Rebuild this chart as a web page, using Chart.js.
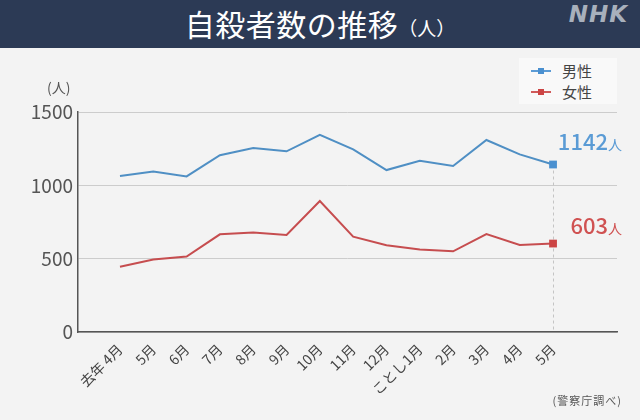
<!DOCTYPE html>
<html><head><meta charset="utf-8">
<script src="https://cdn.jsdelivr.net/npm/chart.js@4"></script>
<style>
html,body{margin:0;padding:0;width:640px;height:420px;background:#f3f3f3;overflow:hidden;font-family:"Noto Sans CJK JP",sans-serif;}
#wrap{position:relative;width:640px;height:420px;}
#c{position:absolute;left:0;top:0;}
#bar{position:absolute;left:0;top:0;width:640px;height:48px;background:#2c3a55;z-index:2;}
#title{position:absolute;left:0;width:640px;top:3px;text-align:center;color:#fff;font-size:30px;font-weight:400;line-height:40px;letter-spacing:0.5px;}
#title span{font-size:19px;letter-spacing:0;}
#nhk{position:absolute;right:12px;top:1px;color:#a8b0bc;font-family:"DejaVu Sans",sans-serif;font-weight:bold;font-style:italic;font-size:23px;letter-spacing:1px;}
#unit{position:absolute;left:47px;top:77px;font-size:14px;color:#555;}
#legend{position:absolute;left:519px;top:58px;width:98px;height:46px;background:#f9f9f9;z-index:2;}
.li{position:absolute;left:12px;height:20px;font-size:15px;color:#444;line-height:20px;}
.li .ln{position:absolute;left:0;top:9px;width:20px;height:2px;}
.li .sq{position:absolute;left:7px;top:7px;width:6px;height:6px;}
.li .tx{position:absolute;left:31px;top:0;white-space:nowrap;}
#src{position:absolute;right:18px;top:392px;font-size:11px;color:#555;letter-spacing:1px;}
</style></head>
<body><div id="wrap">
<canvas id="c" width="640" height="420"></canvas>
<div id="bar"><div id="title">自殺者数の推移<span>（人）</span></div><div id="nhk">NHK</div></div>
<div id="unit">(人)</div>
<div id="legend">
 <div class="li" style="top:3px"><div class="ln" style="background:#5b9bd5"></div><div class="sq" style="background:#4a90d0"></div><div class="tx">男性</div></div>
 <div class="li" style="top:24px"><div class="ln" style="background:#d05a5a"></div><div class="sq" style="background:#cc4444"></div><div class="tx">女性</div></div>
</div>
<div id="src">(警察庁調べ)</div>
</div>
<script>
const months = ["去年 4月","5月","6月","7月","8月","9月","10月","11月","12月","ことし1月","2月","3月","4月","5月"];
const male =   [1063,1095,1061,1205,1254,1232,1345,1245,1104,1168,1132,1309,1211,1142];
const female = [445,495,514,666,679,661,893,650,591,563,550,668,593,603];
const yTicks = [0,500,1000,1500];

const BLUE_LINE="#4f8fc4", BLUE_PT="#4a90d0", BLUE_TXT="#5a9bd5";
const RED_LINE="#c64d4f", RED_PT="#cc4444", RED_TXT="#d05252";
const last = months.length-1;
const radii = months.map((_,i)=> i===last?5.5:0);

const endLabels = {
  id:'endLabels',
  beforeDatasetsDraw(chart){
    const ctx=chart.ctx;
    const p=chart.getDatasetMeta(0).data[last];
    const yb=chart.scales.y.getPixelForValue(0);
    ctx.save();
    ctx.strokeStyle="#c4c4c4";ctx.lineWidth=1;ctx.setLineDash([3,3]);
    ctx.beginPath();ctx.moveTo(Math.round(p.x)+0.5,p.y);ctx.lineTo(Math.round(p.x)+0.5,yb);ctx.stroke();
    ctx.restore();
  },
  afterDatasetsDraw(chart){
    const ctx=chart.ctx;
    const defs=[[0,male,BLUE_TXT,-15],[1,female,RED_TXT,-10]];
    ctx.save();
    defs.forEach(([di,arr,col,dy])=>{
      const p=chart.getDatasetMeta(di).data[last];
      const right=622;
      ctx.fillStyle=col;ctx.textBaseline='alphabetic';ctx.textAlign='right';
      ctx.font='14px "Noto Sans CJK JP"';
      const w=ctx.measureText('人').width;
      ctx.fillText('人',right,p.y+dy);
      ctx.font='500 22px "Noto Sans CJK JP"';
      ctx.fillText(String(arr[last]),right-w,p.y+dy);
    });
    ctx.restore();
  }
};

new Chart(document.getElementById('c'),{
  type:'line',
  data:{datasets:[
    {label:'男性',data:male.map((v,i)=>({x:i,y:v})),borderColor:BLUE_LINE,backgroundColor:BLUE_PT,borderWidth:2,
     pointStyle:'rect',pointRadius:radii,pointBackgroundColor:BLUE_PT,pointBorderWidth:0,tension:0},
    {label:'女性',data:female.map((v,i)=>({x:i,y:v})),borderColor:RED_LINE,backgroundColor:RED_PT,borderWidth:2,
     pointStyle:'rect',pointRadius:radii,pointBackgroundColor:RED_PT,pointBorderWidth:0,tension:0}
  ]},
  options:{
    responsive:false,animation:false,
    layout:{padding:{top:112,right:23,left:0,bottom:0}},
    plugins:{legend:{display:false},tooltip:{enabled:false}},
    scales:{
      x:{type:'linear',min:-1.26,max:14.92,
        afterBuildTicks(s){s.ticks=months.map((_,i)=>({value:i}));},
        afterFit(s){s.height=88;},
        grid:{display:false,drawTicks:false},
        border:{display:true,color:'#555',width:1.5},
        ticks:{autoSkip:false,minRotation:45,maxRotation:45,padding:9,color:'#444',
          font:{family:'"Noto Sans CJK JP"',size:14},
          callback:(v)=>months[v]}
      },
      y:{min:0,max:1500,
        afterBuildTicks(s){s.ticks=yTicks.map(v=>({value:v}));},
        afterFit(s){s.width=78;},
        grid:{color:'#cccccc',lineWidth:1,drawTicks:false},
        border:{display:true,color:'#555',width:1.5},
        ticks:{padding:5,color:'#555',font:{family:'"Noto Sans CJK JP"',size:19},
          callback:(v)=>String(v)}
      }
    }
  },
  plugins:[endLabels]
});
</script>
</body></html>
